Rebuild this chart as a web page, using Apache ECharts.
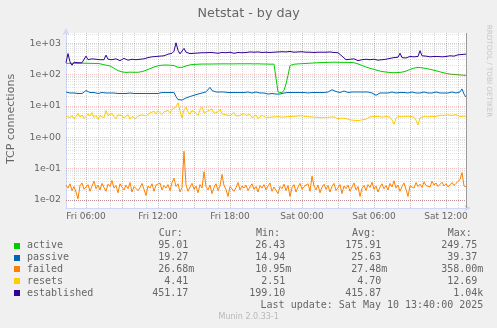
<!DOCTYPE html>
<html><head><meta charset="utf-8">
<script src="https://cdn.jsdelivr.net/npm/echarts@6/dist/echarts.min.js"></script>
<style>html,body{margin:0;padding:0;background:#F0F0F0;}#c{width:497px;height:328px;}</style>
</head><body><div id="c"></div>
<script>
// time axis: Fri 04:20 .. Sat 13:40, 10-minute steps
const startMinutes = 260;
const stepMinutes = 10;
const pointCount = 201;
const xTickLabels = ['Fri 06:00','Fri 12:00','Fri 18:00','Sat 00:00','Sat 06:00','Sat 12:00'];
const yMin = 0.00556, yMax = 2133;
const yMajorGrid = [0.01, 0.1, 1, 10, 100, 1000];
const yMinorGrid = [0.006,0.007,0.008,0.009,
  0.02,0.03,0.04,0.05,0.06,0.07,0.08,0.09,
  0.2,0.3,0.4,0.5,0.6,0.7,0.8,0.9,
  2,3,4,5,6,7,8,9,
  20,30,40,50,60,70,80,90,
  200,300,400,500,600,700,800,900,2000];

const active = [
 230,232,230,228,230,231,229,230,232,230,
 231,229,230,230,228,230,228,225,215,205,
 200,195,190,175,160,148,135,128,122,119,
 118,119,120,118,119,120,119,121,125,130,
 138,147,156,165,175,185,192,196,200,202,
 203,202,200,198,195,185,172,165,170,180,
 190,200,205,210,212,214,215,216,218,217,
 218,219,218,220,219,221,220,219,221,222,
 221,222,220,222,221,223,222,220,222,221,
 222,221,223,222,220,221,222,220,219,218,
 218,217,216,215,216,215,28,27,26.43,32,
 50,95,195,212,215,218,220,222,224,226,
 228,230,232,234,236,238,240,242,243,245,
 246,247,248,249,249.75,249,248,248,247,246,
 247,246,245,244,240,230,220,208,196,185,
 175,167,160,153,147,141,135,130,126,124,
 121,119,117,116,115,116,117,118,120,124,
 130,138,146,154,162,168,170,168,165,162,
 158,153,148,143,138,133,128,123,118,113,
 110,107,104,102,101,100,99,98,97,96,95.01];

const passive = [
 28,27,26,25,26,24,25,26,25,27,
 31,28,27,26,27,26,25,26,27,26,
 26,25,26,25,26,24,25,26,25,24,
 25,24,26,28,25,24,25,24,25,26,
 25,24,25,26,25,24,25,26,27,26,
 27,28,27,28,27,20,16,14.94,15.5,17,
 18,19,20,21,22,23,24,25,26,27,
 28,30,39.37,31,29,28,27,28,27,28,
 28,27,28,27,26,27,28,27,26,27,
 27,28,27,26,27,28,27,26,25,26,
 25,24,24,25,24,24,25,24,25,26,
 26,27,26,27,26,27,28,27,26,27,
 27,26,28,27,26,27,28,27,26,27,
 27,28,30,33,31,29,28,27,28,30,
 28,27,29,28,27,28,29,28,27,28,
 27,28,27,26,24,22,25,26,27,26,
 27,26,27,28,27,26,28,27,26,27,
 27,26,27,28,27,26,27,26,27,28,
 27,26,27,26,27,28,27,26,27,26,
 27,26,27,28,27,26,27,28,35,24,19.27];

const failed = [
 0.030,0.024,0.033,0.020,0.027,0.018,0.01095,0.029,0.035,0.022,
 0.026,0.031,0.019,0.028,0.040,0.023,0.030,0.021,0.034,0.025,
 0.019,0.032,0.027,0.042,0.024,0.029,0.017,0.033,0.026,0.021,
 0.030,0.023,0.036,0.018,0.027,0.031,0.020,0.025,0.034,0.022,
 0.014,0.028,0.024,0.033,0.019,0.030,0.026,0.035,0.021,0.029,
 0.024,0.031,0.020,0.036,0.050,0.027,0.033,0.018,0.025,0.358,
 0.030,0.019,0.026,0.034,0.022,0.028,0.017,0.031,0.024,0.080,
 0.027,0.021,0.030,0.016,0.025,0.033,0.020,0.028,0.065,0.029,
 0.022,0.013,0.027,0.031,0.019,0.025,0.036,0.021,0.028,0.024,
 0.030,0.020,0.026,0.033,0.022,0.027,0.018,0.029,0.024,0.031,
 0.021,0.028,0.035,0.019,0.026,0.030,0.016,0.027,0.023,0.032,
 0.020,0.029,0.013,0.025,0.031,0.018,0.026,0.034,0.022,0.027,
 0.024,0.033,0.019,0.058,0.028,0.021,0.030,0.017,0.026,0.032,
 0.022,0.029,0.018,0.027,0.034,0.020,0.025,0.031,0.016,0.028,
 0.023,0.030,0.019,0.026,0.035,0.021,0.027,0.013,0.024,0.029,
 0.020,0.031,0.025,0.037,0.022,0.028,0.018,0.026,0.033,0.023,
 0.029,0.021,0.034,0.026,0.041,0.024,0.030,0.019,0.027,0.035,
 0.022,0.013,0.028,0.031,0.024,0.036,0.027,0.032,0.025,0.038,
 0.029,0.033,0.026,0.040,0.030,0.035,0.027,0.031,0.037,0.028,
 0.033,0.026,0.030,0.036,0.029,0.034,0.031,0.045,0.075,0.028,0.02668];

const resets = [
 4.8,5.5,4.2,5.0,3.9,4.6,5.8,4.4,5.2,4.0,
 4.5,5.6,4.8,6.2,4.3,5.0,3.8,4.9,5.4,4.2,
 7.2,5.0,4.4,5.8,4.6,3.9,5.2,4.5,5.0,4.1,
 4.7,5.3,3.8,4.6,5.1,4.0,4.8,4.3,5.2,4.5,
 4.8,5.5,6.0,5.2,6.8,5.5,7.0,6.2,5.4,6.5,
 6.5,7.2,6.0,7.8,8.5,9.5,12.69,7.0,4.2,7.5,
 9.0,6.5,5.5,7.2,8.0,6.0,5.0,7.5,9.2,6.0,
 5.5,7.0,6.2,8.0,5.8,5.2,6.5,7.8,5.6,6.0,
 5.2,5.8,4.9,5.5,6.2,4.8,5.3,5.0,4.6,5.8,
 5.0,4.6,5.4,4.2,4.8,5.2,4.0,4.5,5.0,4.4,
 4.3,4.6,4.4,4.9,4.5,4.2,4.6,5.0,4.4,4.7,
 4.5,4.8,4.6,5.0,4.7,4.5,4.8,4.6,4.9,4.7,
 4.6,4.8,4.5,4.7,4.4,4.6,4.3,4.5,4.2,4.4,
 4.3,4.1,4.4,4.0,4.5,4.2,3.9,4.3,4.1,4.4,
 4.0,3.8,3.6,3.9,3.5,3.7,3.4,3.8,3.6,3.9,
 3.8,4.2,4.5,4.8,4.6,5.0,4.7,4.9,4.4,4.8,
 4.6,4.9,4.4,3.6,2.6,4.0,4.7,5.0,4.5,4.8,
 4.7,5.2,4.6,4.9,4.4,3.5,2.51,4.2,4.8,4.6,
 4.9,4.5,5.0,4.7,5.3,4.6,4.9,5.1,4.7,5.0,
 4.8,5.2,4.6,5.0,4.7,5.3,4.9,4.6,5.1,4.8,4.41];

const established = [
 240,470,255,200,250,245,240,255,240,250,
 390,300,280,320,290,310,280,300,330,300,
 420,310,330,300,290,320,300,280,310,330,
 300,290,320,310,290,300,330,310,290,320,
 330,350,340,370,360,380,400,390,420,400,
 430,450,520,480,560,1040,600,460,520,690,
 520,490,470,500,480,510,490,470,500,490,
 500,480,510,490,500,520,480,500,510,490,
 500,490,520,500,480,500,510,490,500,520,
 510,500,530,510,520,500,530,520,510,530,
 520,530,510,540,520,560,530,510,540,520,
 530,520,550,530,520,540,530,520,540,530,
 520,540,520,530,510,530,520,500,520,510,
 520,510,530,520,510,520,500,450,390,340,
 300,280,310,290,320,300,280,310,300,320,
 310,290,300,280,310,300,290,310,300,320,
 310,300,330,320,350,330,360,480,350,380,
 340,360,380,350,370,360,380,580,400,380,
 390,380,370,390,380,400,380,390,370,390,
 380,390,400,380,390,410,430,450,440,450,451.17];

const seriesNames = ['active','passive','failed','resets','established'];
const seriesColors = ['#00CC00','#0066B3','#FF8000','#FFCC00','#330099'];
const seriesData = [active, passive, failed, resets, established];
const legendHeaders = ['Cur:','Min:','Avg:','Max:'];
const curValues = ['95.01','19.27','26.68m','4.41','451.17'];
const minValues = ['26.43','14.94','10.95m','2.51','199.10'];
const avgValues = ['175.91','25.63','27.48m','4.70','415.87'];
const maxValues = ['249.75','39.37','358.00m','12.69','1.04k'];
const lastUpdate = 'Last update: Sat May 10 13:40:00 2025';
const titleText = 'Netstat - by day';
const yAxisTitle = 'TCP connections';
const versionText = 'Munin 2.0.33-1';
const watermark = 'RRDTOOL / TOBI OETIKER';

function pad(n){ return (n < 10 ? '0' : '') + n; }
const categories = [];
for (let i = 0; i < pointCount; i++) {
  const m = startMinutes + i * stepMinutes;
  const day = m >= 1440 ? 'Sat' : 'Fri';
  const mm = m % 1440;
  categories.push(day + ' ' + pad(Math.floor(mm / 60)) + ':' + pad(mm % 60));
}
function hourOf(v){ return parseInt(v.slice(4, 6), 10); }
function isHour(v){ return v.slice(7) === '00'; }

const minorColor = 'rgba(150,150,150,0.4)';
const minorColorH = 'rgba(150,150,150,0.28)';
const majorColor = 'rgba(225,70,70,0.42)';
const majorColorH = 'rgba(225,70,70,0.32)';
const axisColor = '#CFD6F8';
const fontColor = '#666666';
const mono = '"DejaVu Sans Mono", monospace';
const sans = '"DejaVu Sans", sans-serif';

const chart = echarts.init(document.getElementById('c'), null, {renderer: 'canvas'});

const gridMarks = [];
yMinorGrid.forEach(v => gridMarks.push({yAxis: v, lineStyle: {color: minorColorH, type: [1, 1], width: 1}}));
yMajorGrid.forEach(v => gridMarks.push({yAxis: v, lineStyle: {color: majorColorH, type: [1, 1], width: 1}}));
gridMarks.push({xAxis: categories[pointCount - 1], lineStyle: {color: '#9a9a9a', type: 'solid', width: 1}});

const series = [{
  type: 'line', name: 'grid', data: [], silent: true, z: 1,
  markLine: {silent: true, symbol: ['none', 'none'], label: {show: false}, animation: false, data: gridMarks}
}];
seriesData.forEach((d, k) => series.push({
  type: 'line', name: seriesNames[k], data: d, showSymbol: false, symbol: 'none',
  lineStyle: {width: 1, color: seriesColors[k]}, itemStyle: {color: seriesColors[k]},
  z: 3 + k, animation: false
}));

const graphics = [];
graphics.push({type: 'text', x: 248.7, y: 13.3, style: {text: titleText, font: '12.7px ' + sans, fill: fontColor, align: 'center', verticalAlign: 'middle'}});
graphics.push({type: 'text', x: 10.8, y: 119, rotation: Math.PI / 2, style: {text: yAxisTitle, font: '11px ' + sans, fill: fontColor, align: 'center', verticalAlign: 'middle'}});
graphics.push({type: 'text', x: 489, y: 71, rotation: -Math.PI / 2, style: {text: watermark, font: '7.2px ' + sans, fill: '#c8c8c8', align: 'center', verticalAlign: 'middle'}});
const headerX = [158.7, 256, 352, 447.7];
legendHeaders.forEach((h, j) => graphics.push({type: 'text', x: headerX[j], y: 233.5, style: {text: h, font: '10px ' + mono, fill: fontColor, align: 'left', verticalAlign: 'middle'}}));
const colRight = [194.3, 291.3, 387.3, 483.3];
const cols = [curValues, minValues, avgValues, maxValues];
seriesNames.forEach((n, k) => {
  const yc = 245.6 + 11.93 * k;
  graphics.push({type: 'rect', shape: {x: 14, y: Math.round(yc) - 3, width: 6, height: 6}, style: {fill: seriesColors[k]}});
  graphics.push({type: 'text', x: 27, y: yc, style: {text: n, font: '10px ' + mono, fill: fontColor, align: 'left', verticalAlign: 'middle'}});
  cols.forEach((col, j) => {
    const s = col[k];
    const suffix = /[a-z]$/i.test(s);
    graphics.push({type: 'text', x: colRight[j] - (suffix ? 0 : 6.02), y: yc, style: {text: s, font: '10px ' + mono, fill: fontColor, align: 'right', verticalAlign: 'middle'}});
  });
});
graphics.push({type: 'text', x: 483.3, y: 305.7, style: {text: lastUpdate, font: '10px ' + mono, fill: fontColor, align: 'right', verticalAlign: 'middle'}});
graphics.push({type: 'text', x: 248.7, y: 316.7, style: {text: versionText, font: '8px ' + sans, fill: '#b8b8b8', align: 'center', verticalAlign: 'middle'}});

chart.setOption({
  backgroundColor: '#F0F0F0',
  animation: false,
  grid: {left: 66, top: 33, width: 400, height: 175, show: true, backgroundColor: '#FFFFFF', borderWidth: 0},
  xAxis: [{
    type: 'category', data: categories, boundaryGap: false,
    axisLine: {show: true, lineStyle: {color: axisColor, width: 1}, symbol: ['none', 'arrow'], symbolSize: [5, 7], symbolOffset: [0, 5]},
    axisTick: {show: false},
    axisLabel: {interval: (i, v) => xTickLabels.indexOf(v) >= 0, color: fontColor, fontFamily: 'DejaVu Sans', fontSize: 9, margin: 4},
    splitLine: {show: true, interval: (i, v) => isHour(v) && hourOf(v) % 3 !== 0, lineStyle: {color: minorColor, type: [1, 1], width: 1}}
  }, {
    type: 'category', data: categories, boundaryGap: false, position: 'bottom',
    axisLine: {show: false}, axisTick: {show: false}, axisLabel: {show: false},
    splitLine: {show: true, interval: (i, v) => isHour(v) && hourOf(v) % 3 === 0, lineStyle: {color: majorColor, type: [1, 1], width: 1}}
  }],
  yAxis: {
    type: 'log', logBase: 10, min: yMin, max: yMax,
    axisLine: {show: true, lineStyle: {color: axisColor, width: 1}, symbol: ['none', 'arrow'], symbolSize: [5, 7], symbolOffset: [0, 5]},
    axisTick: {show: false},
    splitLine: {show: false},
    axisLabel: {
      showMinLabel: false, showMaxLabel: false, color: fontColor, fontFamily: 'DejaVu Sans', fontSize: 9.4, margin: 5,
      formatter: v => { const e = Math.round(Math.log10(v)); return '1e' + (e < 0 ? '-' : '+') + pad(Math.abs(e)); }
    }
  },
  series: series,
  graphic: graphics
});
</script></body></html>
